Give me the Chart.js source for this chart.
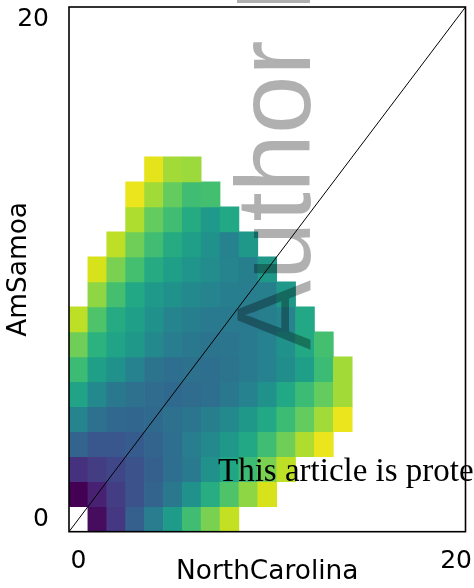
<!DOCTYPE html>
<html><head><meta charset="utf-8">
<script src="https://cdn.jsdelivr.net/npm/chart.js@4.4.1/dist/chart.umd.min.js"></script>
<style>html,body{margin:0;padding:0;background:#fff;}#wrap{width:474px;height:588px;}</style>
</head><body><div id="wrap"><canvas id="c" width="474" height="588"></canvas></div>
<script>
const xAxisTitle = 'NorthCarolina';
const yAxisTitle = 'AmSamoa';
const axisRange = [-0.5, 20.5];
const xTickValues = [0, 20];
const yTickValues = [0, 20];
const watermarkText = 'Author Manuscript';
const noticeText = 'This article is protected by copyright. All rights reserved.';

// first filled column of each row (row 0 at bottom)
const rowFirstColumn = [1, 0, 0, 0, 0, 0, 0, 0, 0, 1, 1, 2, 3, 3, 4];
// colour value (0..1 on viridis) of each filled cell, left to right
const row0  = [0.03, 0.16, 0.30, 0.42, 0.55, 0.69, 0.80, 0.91];
const row1  = [0.00, 0.09, 0.18, 0.25, 0.32, 0.40, 0.50, 0.62, 0.72, 0.83, 0.94];
const row2  = [0.14, 0.18, 0.21, 0.25, 0.30, 0.36, 0.41, 0.50, 0.59, 0.68, 0.80, 0.90];
const row3  = [0.32, 0.27, 0.27, 0.29, 0.32, 0.36, 0.42, 0.47, 0.53, 0.60, 0.69, 0.78, 0.88, 0.97];
const row4  = [0.45, 0.37, 0.34, 0.33, 0.34, 0.37, 0.39, 0.43, 0.47, 0.53, 0.60, 0.68, 0.76, 0.86, 0.97];
const row5  = [0.58, 0.47, 0.40, 0.37, 0.35, 0.34, 0.35, 0.36, 0.40, 0.44, 0.50, 0.60, 0.68, 0.76, 0.86];
const row6  = [0.68, 0.56, 0.50, 0.44, 0.38, 0.36, 0.37, 0.36, 0.38, 0.41, 0.44, 0.49, 0.56, 0.68, 0.86];
const row7  = [0.78, 0.64, 0.58, 0.53, 0.47, 0.42, 0.40, 0.38, 0.39, 0.41, 0.44, 0.50, 0.60, 0.70];
const row8  = [0.90, 0.72, 0.61, 0.56, 0.50, 0.45, 0.43, 0.41, 0.41, 0.41, 0.43, 0.45, 0.60];
const row9  = [0.83, 0.70, 0.60, 0.54, 0.50, 0.47, 0.45, 0.43, 0.42, 0.43, 0.53];
const row10 = [0.94, 0.80, 0.70, 0.61, 0.56, 0.52, 0.48, 0.45, 0.43, 0.53];
const row11 = [0.90, 0.78, 0.69, 0.61, 0.56, 0.50, 0.44, 0.53];
const row12 = [0.88, 0.76, 0.69, 0.61, 0.54, 0.60];
const row13 = [0.97, 0.86, 0.76, 0.69, 0.70];
const row14 = [0.96, 0.86, 0.85];
const cellRows = [row0,row1,row2,row3,row4,row5,row6,row7,row8,row9,row10,row11,row12,row13,row14];

const viridisStops = ['#440154','#471365','#482475','#463480','#414487','#3b528b','#355f8d','#2f6c8e','#2a788e','#25848e','#21918c','#1e9c89','#22a884','#2fb47c','#44bf70','#5ec962','#7ad151','#9bd93c','#bddf26','#dfe318','#fde725'];
function hex(h){return [parseInt(h.slice(1,3),16),parseInt(h.slice(3,5),16),parseInt(h.slice(5,7),16)];}
function viridis(t){
  t = Math.max(0, Math.min(1, t));
  const p = t * (viridisStops.length - 1);
  const i = Math.min(Math.floor(p), viridisStops.length - 2);
  const f = p - i;
  const a = hex(viridisStops[i]), b = hex(viridisStops[i+1]);
  const c = a.map((v,k)=>Math.round(v + (b[k]-v)*f));
  return `rgb(${c[0]},${c[1]},${c[2]})`;
}

const cells = [];
cellRows.forEach((vals, r) => {
  vals.forEach((v, k) => {
    cells.push({x: rowFirstColumn[r] + k, y: [r - 0.5, r + 0.5], v: v});
  });
});

const overlay = {
  id: 'overlay',
  afterDraw(chart){
    const {ctx, chartArea: a} = chart;
    ctx.save();
    ctx.strokeStyle = '#000';
    ctx.lineWidth = 1.6;
    ctx.strokeRect(a.left, a.top, a.right - a.left, a.bottom - a.top);
    // watermark
    ctx.save();
    ctx.translate(310, 350);
    ctx.rotate(-Math.PI/2);
    ctx.font = '105px "Liberation Sans"';
    ctx.fillStyle = 'rgba(0,0,0,0.31)';
    ctx.textBaseline = 'alphabetic';
    ctx.textAlign = 'left';
    ctx.fillText(watermarkText, 0, 0);
    ctx.restore();
    ctx.font = '33px "Liberation Serif"';
    ctx.fillStyle = '#000';
    ctx.textBaseline = 'alphabetic';
    ctx.textAlign = 'left';
    ctx.fillText(noticeText, 218, 481);
    ctx.restore();
  }
};

const tickFont = {family: 'DejaVu Sans', size: 25};
const titleFont = {family: 'DejaVu Sans', size: 26.4};

new Chart(document.getElementById('c'), {
  type: 'bar',
  data: {
    datasets: [
      {
        type: 'line',
        data: [{x: axisRange[0], y: axisRange[0]}, {x: axisRange[1], y: axisRange[1]}],
        borderColor: '#000', borderWidth: 1, pointRadius: 0, order: 0, tension: 0
      },
      {
        type: 'bar',
        data: cells,
        backgroundColor: c => c.raw ? viridis(c.raw.v) : '#fff',
        borderWidth: 0,
        borderSkipped: false,
        barPercentage: 1,
        categoryPercentage: 1,
        order: 1
      }
    ]
  },
  options: {
    responsive: false,
    devicePixelRatio: 1,
    animation: false,
    layout: {padding: {left: 0, top: 7, right: 8.5, bottom: 0}},
    plugins: {legend: {display: false}, tooltip: {enabled: false}},
    scales: {
      x: {
        type: 'linear', min: axisRange[0], max: axisRange[1], offset: false,
        grid: {display: false, drawTicks: false}, border: {display: false},
        afterBuildTicks: s => { s.ticks = xTickValues.map(v => ({value: v})); },
        afterFit: s => { s.height = 56.3; s.paddingLeft = 0; s.paddingRight = 0; },
        ticks: {font: tickFont, color: '#000', padding: 15, maxRotation: 0, autoSkip: false, callback: v => String(v)},
        title: {display: true, text: xAxisTitle, font: titleFont, color: '#000', padding: {top: 0, bottom: 0}}
      },
      y: {
        type: 'linear', min: axisRange[0], max: axisRange[1],
        grid: {display: false, drawTicks: false}, border: {display: false},
        afterBuildTicks: s => { s.ticks = yTickValues.map(v => ({value: v})); },
        afterFit: s => { s.width = 69; s.paddingTop = 0; s.paddingBottom = 0; },
        ticks: {font: tickFont, color: '#000', padding: 20, autoSkip: false, callback: v => String(v)},
        title: {display: true, text: yAxisTitle, font: titleFont, color: '#000', padding: {top: 3, bottom: 0}}
      }
    }
  },
  plugins: [overlay]
});
</script>
</body></html>
